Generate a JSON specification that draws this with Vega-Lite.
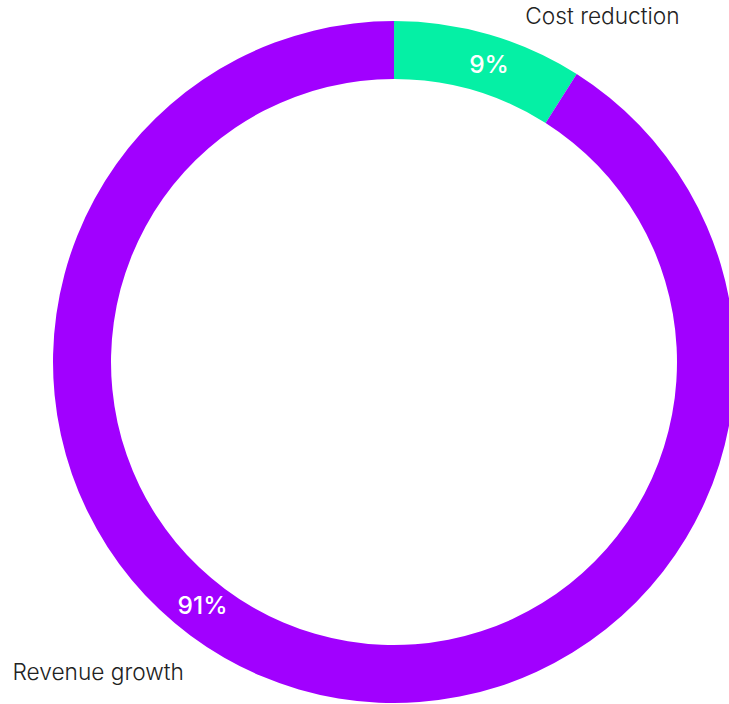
{
  "$schema": "https://vega.github.io/schema/vega-lite/v6.json",
  "autosize": "none",
  "width": 788,
  "height": 724,
  "padding": {"left": 0, "top": 0, "right": -59, "bottom": -20},
  "background": "white",
  "config": {"view": {"stroke": null}, "text": {"font": "Inter"}},
  "data": {"values": [
    {"category": "Cost reduction", "value": 9, "label": "9%", "rank": 1},
    {"category": "Revenue growth", "value": 91, "label": "91%", "rank": 2}
  ]},
  "transform": [
    {"stack": "value", "groupby": [], "sort": [{"field": "rank", "order": "ascending"}], "as": ["start", "end"]}
  ],
  "encoding": {
    "theta": {"field": "start", "type": "quantitative", "scale": {"domain": [0, 100]}}
  },
  "layer": [
    {
      "mark": {"type": "arc", "outerRadius": 341, "innerRadius": 283},
      "encoding": {
        "theta2": {"field": "end"},
        "color": {"field": "category", "type": "nominal", "scale": {"domain": ["Cost reduction", "Revenue growth"], "range": ["#05F0A5", "#A100FF"]}, "legend": null}
      }
    },
    {
      "transform": [{"filter": "datum.category === 'Cost reduction'"}],
      "mark": {"type": "text", "radius": 311, "thetaOffset": 0.3105, "fontSize": 24.5, "fontWeight": 500, "color": "white", "align": "center", "baseline": "middle"},
      "encoding": {"text": {"field": "label"}}
    },
    {
      "transform": [{"filter": "datum.category === 'Revenue growth'"}],
      "mark": {"type": "text", "radius": 311, "thetaOffset": 3.2394, "fontSize": 24.5, "fontWeight": 500, "color": "white", "align": "center", "baseline": "middle"},
      "encoding": {"text": {"field": "label"}}
    },
    {
      "transform": [{"filter": "datum.category === 'Cost reduction'"}],
      "mark": {"type": "text", "radius": 403, "thetaOffset": 0.5437, "fontSize": 22.7, "fontWeight": 300, "color": "#222222", "align": "center", "baseline": "middle"},
      "encoding": {"text": {"field": "category"}}
    },
    {
      "transform": [{"filter": "datum.category === 'Revenue growth'"}],
      "mark": {"type": "text", "radius": 429, "thetaOffset": 3.3369, "fontSize": 22.7, "fontWeight": 300, "color": "#222222", "align": "center", "baseline": "middle"},
      "encoding": {"text": {"field": "category"}}
    }
  ]
}
